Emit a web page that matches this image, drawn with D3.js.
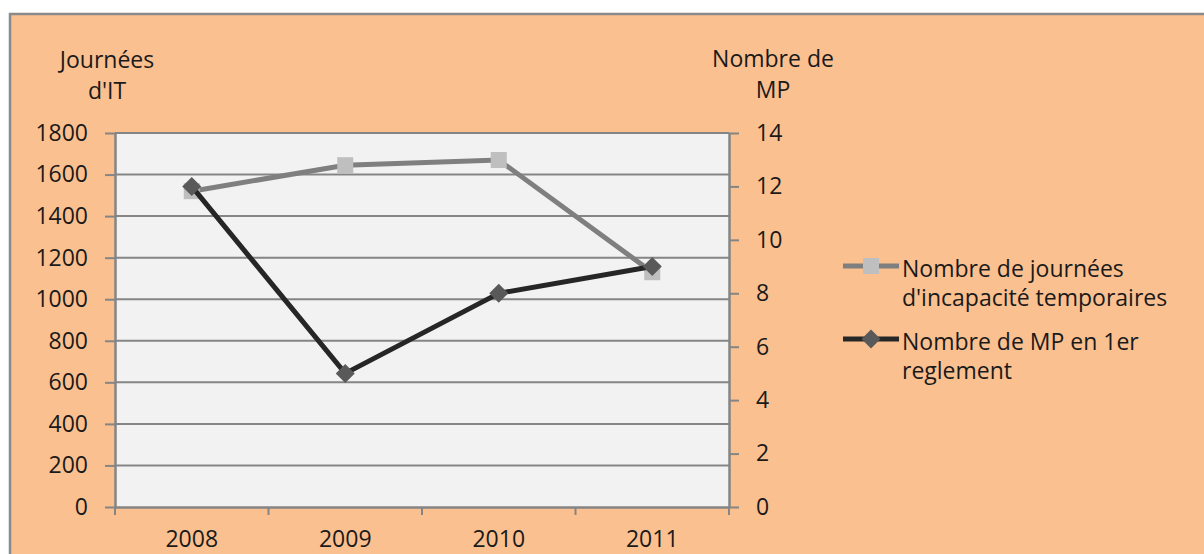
<!DOCTYPE html>
<html>
<head>
<meta charset="utf-8">
<script src="https://cdn.jsdelivr.net/npm/d3@7"></script>
<style>
  html, body { margin: 0; padding: 0; background: #ffffff; }
  svg text { font-family: "Open Sans", "DejaVu Sans", sans-serif; fill: #1a1a1a; }
</style>
</head>
<body>
<svg id="chart" width="1204" height="554"></svg>
<script>
// data
const years = ["2008", "2009", "2010", "2011"];
const journees = [1520, 1645, 1670, 1130];   // left axis
const nbMP = [12, 5, 8, 9];                  // right axis
const leftTicks = [0, 200, 400, 600, 800, 1000, 1200, 1400, 1600, 1800];
const rightTicks = [0, 2, 4, 6, 8, 10, 12, 14];
const seriesNames = [
  ["Nombre de journées", "d'incapacité temporaires"],
  ["Nombre de MP en 1er", "reglement"]
];

const FS = 23;
const svg = d3.select("#chart");
const plot = { left: 115, right: 729, top: 133, bottom: 507 };

// chart background + frame
svg.append("rect")
  .attr("x", 10).attr("y", 14)
  .attr("width", 1210).attr("height", 560)
  .attr("fill", "#fac090")
  .attr("stroke", "#8a8a8a")
  .attr("stroke-width", 2.5);

svg.append("rect")
  .attr("x", plot.left).attr("y", plot.top)
  .attr("width", plot.right - plot.left).attr("height", plot.bottom - plot.top)
  .attr("fill", "#f2f2f2");

const x = d3.scaleBand().domain(years).range([plot.left, plot.right]).padding(0);
const yL = d3.scaleLinear().domain([0, 1800]).range([plot.bottom, plot.top]);
const yR = d3.scaleLinear().domain([0, 14]).range([plot.bottom, plot.top]);

// gridlines
svg.append("g").selectAll("line")
  .data(leftTicks.filter(d => d > 0))
  .join("line")
  .attr("x1", plot.left).attr("x2", plot.right)
  .attr("y1", d => yL(d)).attr("y2", d => yL(d))
  .attr("stroke", "#858585").attr("stroke-width", 2);

function styleAxis(g) {
  g.select(".domain").attr("stroke", "#858585").attr("stroke-width", 2.5);
  g.selectAll(".tick line").attr("stroke", "#858585").attr("stroke-width", 2);
  g.selectAll(".tick text").attr("font-size", FS).attr("fill", "#1a1a1a");
}

// left axis
svg.append("g")
  .attr("transform", `translate(${plot.left},0)`)
  .call(d3.axisLeft(yL).tickValues(leftTicks).tickFormat(d3.format("d"))
    .tickSize(10).tickSizeOuter(0).tickPadding(17))
  .call(styleAxis);

// right axis
svg.append("g")
  .attr("transform", `translate(${plot.right},0)`)
  .call(d3.axisRight(yR).tickValues(rightTicks).tickFormat(d3.format("d"))
    .tickSize(10).tickSizeOuter(0).tickPadding(17))
  .call(styleAxis);

// bottom axis, ticks at band edges
const xAxis = svg.append("g")
  .attr("transform", `translate(0,${plot.bottom})`)
  .call(d3.axisBottom(x).tickSize(0).tickSizeOuter(0).tickPadding(24))
  .call(styleAxis);
xAxis.selectAll(".edge")
  .data(years.map(d => x(d)).concat([plot.right]))
  .join("line")
  .attr("x1", d => d).attr("x2", d => d)
  .attr("y1", 0).attr("y2", 8)
  .attr("stroke", "#858585").attr("stroke-width", 2);

// axis titles
function titleLines(lines, cx, y0) {
  svg.append("g").selectAll("text")
    .data(lines)
    .join("text")
    .attr("x", cx).attr("y", (d, i) => y0 + i * 31)
    .attr("text-anchor", "middle")
    .attr("font-size", FS)
    .text(d => d);
}
titleLines(["Journées", "d'IT"], 107, 68);
titleLines(["Nombre de", "MP"], 773, 67);

// lines + markers
const cx = d => x(d) + x.bandwidth() / 2;
const lineL = d3.line().x((d, i) => cx(years[i])).y(d => yL(d));
const lineR = d3.line().x((d, i) => cx(years[i])).y(d => yR(d));

svg.append("path").datum(journees)
  .attr("d", lineL).attr("fill", "none")
  .attr("stroke", "#7f7f7f").attr("stroke-width", 5);

svg.append("g").selectAll("rect")
  .data(journees)
  .join("rect")
  .attr("x", (d, i) => cx(years[i]) - 8).attr("y", d => yL(d) - 8)
  .attr("width", 16).attr("height", 16)
  .attr("fill", "#bfbfbf");

svg.append("path").datum(nbMP)
  .attr("d", lineR).attr("fill", "none")
  .attr("stroke", "#262626").attr("stroke-width", 5);

const diamond = d3.symbol().type(d3.symbolSquare).size(180);
svg.append("g").selectAll("path")
  .data(nbMP)
  .join("path")
  .attr("d", diamond)
  .attr("transform", (d, i) => `translate(${cx(years[i])},${yR(d)}) rotate(45)`)
  .attr("fill", "#595959");

// legend
const legend = svg.append("g");
const legendRows = [
  { y: 266, color: "#7f7f7f", marker: "square", fill: "#bfbfbf" },
  { y: 339, color: "#262626", marker: "diamond", fill: "#595959" }
];
legendRows.forEach((r, k) => {
  legend.append("line")
    .attr("x1", 843).attr("x2", 899)
    .attr("y1", r.y).attr("y2", r.y)
    .attr("stroke", r.color).attr("stroke-width", 5);
  if (r.marker === "square") {
    legend.append("rect")
      .attr("x", 871 - 8).attr("y", r.y - 8)
      .attr("width", 16).attr("height", 16)
      .attr("fill", r.fill);
  } else {
    legend.append("path")
      .attr("d", diamond)
      .attr("transform", `translate(871,${r.y}) rotate(45)`)
      .attr("fill", r.fill);
  }
  legend.selectAll(null)
    .data(seriesNames[k])
    .join("text")
    .attr("x", 902)
    .attr("y", (d, i) => r.y + 11 + i * 29)
    .attr("font-size", FS)
    .text(d => d);
});
</script>
</body>
</html>
